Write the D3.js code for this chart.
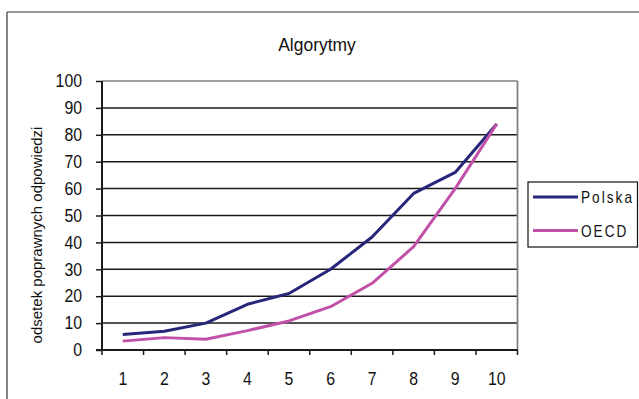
<!DOCTYPE html>
<html>
<head>
<meta charset="utf-8">
<script src="https://cdn.jsdelivr.net/npm/d3@7"></script>
<style>
  html, body { margin: 0; padding: 0; background: #fff; }
  svg { display: block; font-family: "Liberation Sans", Arial, sans-serif; }
</style>
</head>
<body>
<svg id="chart" width="639" height="399"></svg>
<script>
// Task numbers (1–10) and percentage of correct answers
const categories = ["1", "2", "3", "4", "5", "6", "7", "8", "9", "10"];
const polska = [5.8, 7.0, 10.0, 17.0, 21.0, 30.0, 42.0, 58.2, 66.0, 84.0];
const oecd = [3.3, 4.6, 4.0, 7.2, 10.8, 16.1, 24.8, 38.4, 60.0, 84.0];
const yTicks = [0, 10, 20, 30, 40, 50, 60, 70, 80, 90, 100];
const seriesNames = ["Polska", "OECD"];
const seriesColors = ["#27277a", "#c050a8"];
const title = "Algorytmy";
const yLabel = "odsetek poprawnych odpowiedzi";

const svg = d3.select("#chart");
const narrow = 0.88; // horizontal squeeze for a condensed look

// outer frame (top and left edges only visible)
svg.append("line").attr("x1", 7).attr("x2", 639).attr("y1", 12).attr("y2", 12)
  .attr("stroke", "#333").attr("stroke-width", 1.2);
svg.append("line").attr("x1", 7).attr("x2", 7).attr("y1", 12).attr("y2", 399)
  .attr("stroke", "#333").attr("stroke-width", 1.2);

const plot = { left: 102, right: 517.5, top: 81, bottom: 350 };

const x = d3.scaleBand().domain(categories).range([plot.left, plot.right]);
const y = d3.scaleLinear().domain([0, 100]).range([plot.bottom, plot.top]);

// horizontal gridlines
svg.append("g").selectAll("line").data(yTicks.filter(d => d > 0)).join("line")
  .attr("x1", plot.left).attr("x2", plot.right)
  .attr("y1", d => y(d)).attr("y2", d => y(d))
  .attr("stroke", d => d === 100 ? "#808080" : "#1a1a1a")
  .attr("stroke-width", 1.5);

// right border of plot area
svg.append("line").attr("x1", plot.right).attr("x2", plot.right)
  .attr("y1", plot.top).attr("y2", plot.bottom)
  .attr("stroke", "#808080").attr("stroke-width", 1.8);

// y axis
const yAxis = svg.append("g").attr("transform", `translate(${plot.left},0)`)
  .call(d3.axisLeft(y).tickValues(yTicks).tickSize(6).tickPadding(13));
yAxis.select(".domain").attr("stroke", "#1a1a1a").attr("stroke-width", 2)
  .attr("d", `M0,${plot.top}V${plot.bottom}`);
yAxis.selectAll(".tick line").attr("stroke", "#1a1a1a").attr("stroke-width", 1.5);
yAxis.selectAll(".tick text")
  .attr("font-size", 18).attr("fill", "#111")
  .attr("font-family", "Liberation Sans, Arial, sans-serif")
  .attr("x", -20 / narrow)
  .attr("transform", `scale(${narrow},1)`);

// x axis with ticks at category boundaries
const xAxis = svg.append("g").attr("transform", `translate(0,${plot.bottom})`);
xAxis.append("line").attr("x1", plot.left - 6).attr("x2", plot.right)
  .attr("y1", 0).attr("y2", 0).attr("stroke", "#1a1a1a").attr("stroke-width", 2);
const bounds = categories.map(c => x(c)).concat([x(categories[categories.length - 1]) + x.bandwidth()]);
xAxis.selectAll("line.tk").data(bounds).join("line").attr("class", "tk")
  .attr("x1", d => d).attr("x2", d => d).attr("y1", 0).attr("y2", 5)
  .attr("stroke", "#1a1a1a").attr("stroke-width", 1.5);
xAxis.selectAll("text").data(categories).join("text")
  .attr("transform", d => `translate(${x(d) + x.bandwidth() / 2},35) scale(${narrow},1)`)
  .attr("text-anchor", "middle").attr("font-size", 18).attr("fill", "#111")
  .text(d => d);

// series lines
const line = d3.line()
  .x((d, i) => x(categories[i]) + x.bandwidth() / 2)
  .y(d => y(d));
[polska, oecd].forEach((vals, i) => {
  svg.append("path").datum(vals)
    .attr("fill", "none")
    .attr("stroke", seriesColors[i])
    .attr("stroke-width", 3)
    .attr("stroke-linejoin", "round")
    .attr("d", line);
});

// title
svg.append("text")
  .attr("transform", "translate(317,51) scale(0.92,1)")
  .attr("text-anchor", "middle")
  .attr("font-size", 19).attr("fill", "#111")
  .text(title);

// y-axis label
svg.append("text")
  .attr("transform", `translate(42,235) rotate(-90)`)
  .attr("text-anchor", "middle").attr("font-size", 15).attr("fill", "#111")
  .text(yLabel);

// legend
const lg = svg.append("g");
lg.append("rect").attr("x", 528).attr("y", 182).attr("width", 109.5).attr("height", 65)
  .attr("fill", "#fff").attr("stroke", "#111").attr("stroke-width", 1.2);
seriesNames.forEach((name, i) => {
  const ly = 197 + i * 33.5;
  lg.append("line").attr("x1", 533).attr("x2", 578).attr("y1", ly).attr("y2", ly)
    .attr("stroke", seriesColors[i]).attr("stroke-width", 3);
  lg.append("text")
    .attr("transform", `translate(581,${ly + 6}) scale(0.85,1)`)
    .attr("font-size", 16)
    .attr("letter-spacing", 2.4).attr("fill", "#111").text(name);
});
</script>
</body>
</html>
